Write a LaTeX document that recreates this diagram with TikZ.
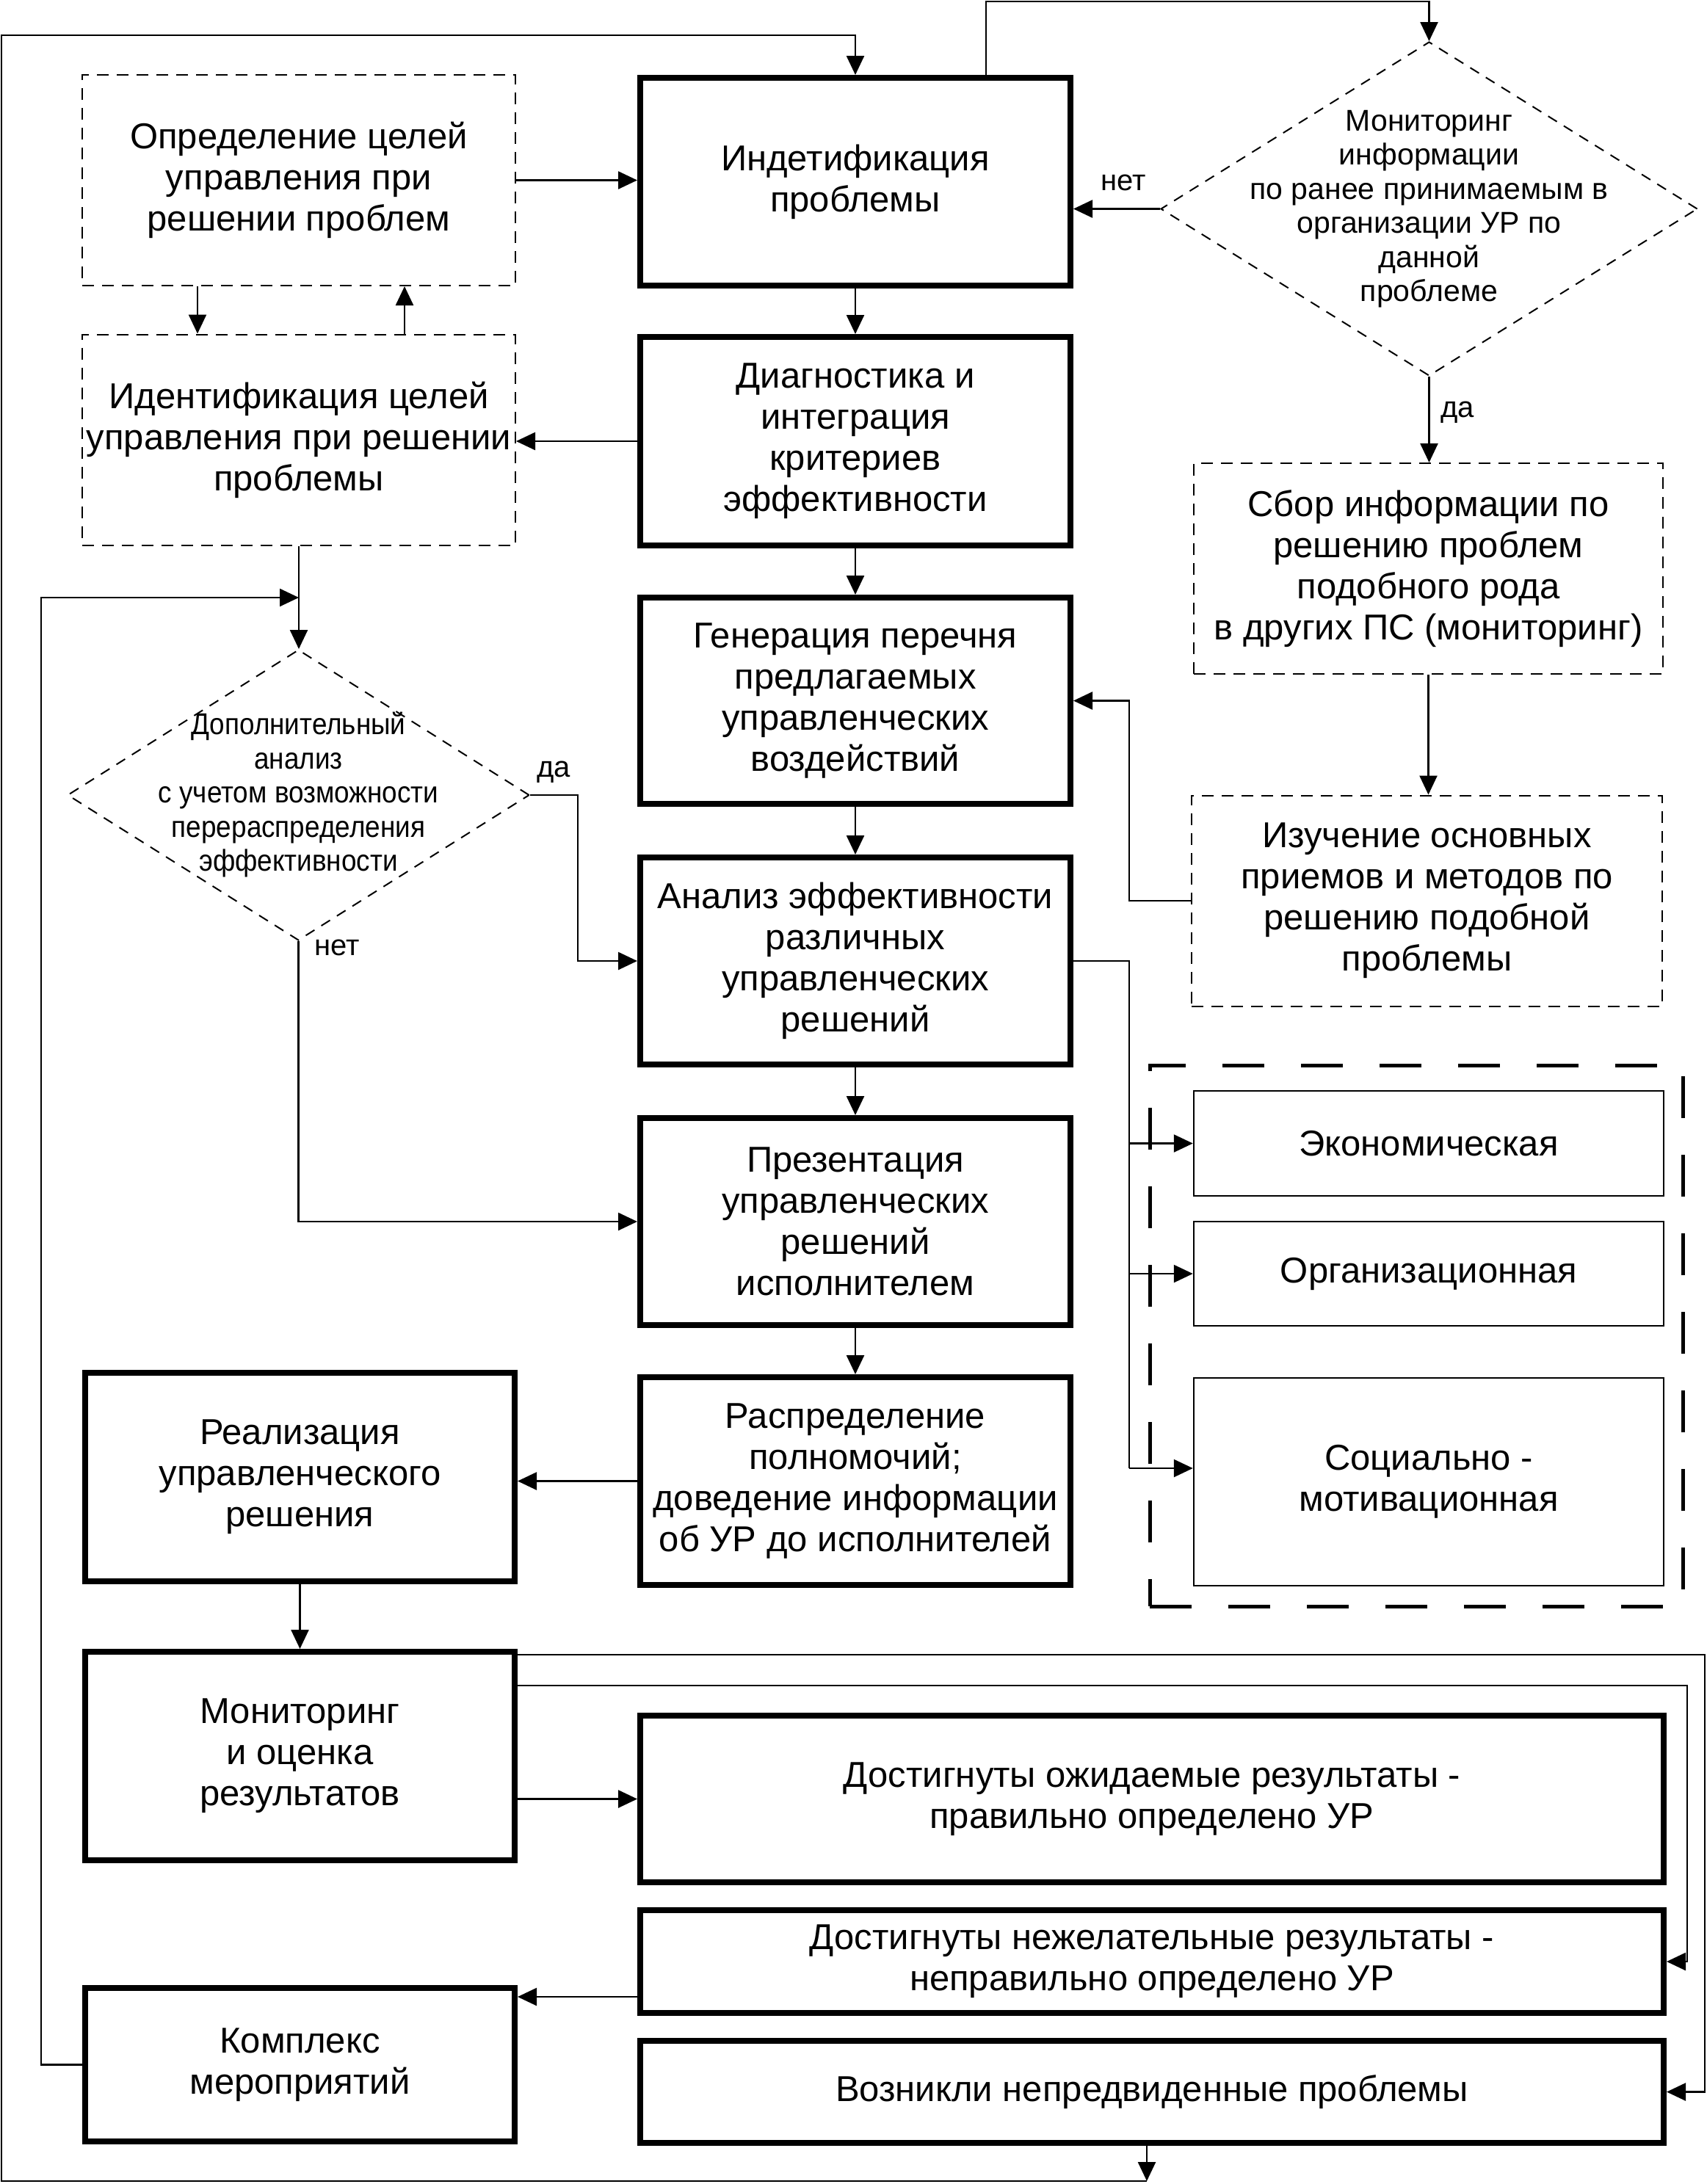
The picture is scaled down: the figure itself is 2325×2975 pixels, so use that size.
\documentclass[tikz,border=0pt]{standalone}
\usepackage{fontspec}
\setmainfont{Liberation Sans}
\newfontfamily\narrowfont{Liberation Sans}[FakeStretch=0.9]
\usetikzlibrary{arrows.meta,shapes.geometric,calc}
\begin{document}
\begin{tikzpicture}[x=1pt,y=-1pt,
  line width=2.5pt,
  arr/.style={-{Triangle[length=26pt,width=24pt]}},
  mainfont/.style={font=\fontsize{49}{56}\selectfont},
  thk/.style={draw, rectangle, line width=8pt, inner sep=0pt, align=center, mainfont},
  dbox/.style={draw, rectangle, line width=2pt, dash pattern=on 16pt off 11pt, inner sep=0pt, align=center, mainfont},
  tbox/.style={draw, rectangle, line width=2.5pt, inner sep=0pt, align=center, mainfont},
  bigdash/.style={draw, rectangle, line width=5pt, dash pattern=on 57pt off 50pt, inner sep=0pt},
  dia/.style={draw, diamond, line width=2pt, dash pattern=on 14pt off 11pt, inner sep=0pt},
  dtext/.style={align=center, inner sep=0pt, font=\fontsize{41}{46.5}\selectfont},
  dtextn/.style={align=center, inner sep=0pt, font=\narrowfont\fontsize{41}{46.5}\selectfont},
  lbl/.style={inner sep=0pt, font=\fontsize{40}{46}\selectfont},
]
\useasboundingbox (0,0) rectangle (2325,2975);

% central column
\node[thk, minimum width=586, minimum height=283] (ind) at (1165,247.5) {Индетификация\\проблемы};
\node[thk, minimum width=586, minimum height=284] (diag) at (1165,601) {Диагностика и\\интеграция\\критериев\\эффективности};
\node[thk, minimum width=586, minimum height=281] (gen) at (1165,954.5) {Генерация перечня\\предлагаемых\\управленческих\\воздействий};
\node[thk, minimum width=586, minimum height=282] (anal) at (1165,1309) {Анализ эффективности\\различных\\управленческих\\решений};
\node[thk, minimum width=586, minimum height=282] (pres) at (1165,1664) {Презентация\\управленческих\\решений\\исполнителем};
\node[thk, minimum width=586, minimum height=283] (rasp) at (1165,2017.5) {Распределение\\полномочий;\\доведение информации\\об УР до исполнителей};

% left column
\node[dbox, minimum width=590, minimum height=287] (opr) at (407,245.5) {Определение целей\\управления при\\решении проблем};
\node[dbox, minimum width=590, minimum height=287] (ident) at (407,599) {Идентификация целей\\управления при решении\\проблемы};
\node[thk, minimum width=585, minimum height=284] (real) at (408.5,2012) {Реализация\\управленческого\\решения};
\node[thk, minimum width=585, minimum height=284] (mon) at (408.5,2392) {Мониторинг\\и оценка\\результатов};
\node[thk, minimum width=585, minimum height=209] (kom) at (408.5,2812.5) {Комплекс\\мероприятий};

% bottom right
\node[thk, minimum width=1394, minimum height=227] (ozh) at (1569,2450.5) {Достигнуты ожидаемые результаты -\\правильно определено УР};
\node[thk, minimum width=1394, minimum height=140] (nezh) at (1569,2672) {Достигнуты нежелательные результаты -\\неправильно определено УР};
\node[thk, minimum width=1394, minimum height=139] (voz) at (1569,2849.5) {Возникли непредвиденные проблемы};

% right column
\node[dbox, minimum width=639, minimum height=287] (sbor) at (1945.5,774.5) {Сбор информации по\\решению проблем\\подобного рода\\в других ПС (мониторинг)};
\node[dbox, minimum width=641, minimum height=287] (izu) at (1943.5,1227) {Изучение основных\\приемов и методов по\\решению подобной\\проблемы};
\node[bigdash, minimum width=726, minimum height=737] (grp) at (1929,1819.5) {};
\node[tbox, minimum width=640, minimum height=143] (eko) at (1946,1557.5) {Экономическая};
\node[tbox, minimum width=640, minimum height=142] (org) at (1946,1735) {Организационная};
\node[tbox, minimum width=640, minimum height=283] (soc) at (1946,2018.5) {Социально -\\мотивационная};

% diamonds
\node[dia, minimum width=731, minimum height=455] (d1) at (1946.5,284.5) {};
\node[dtext] (d1t) at (d1.center) {Мониторинг\\информации\\по ранее принимаемым в\\организации УР по\\данной\\проблеме};
\node[dia, minimum width=629, minimum height=396] (d2) at (406.5,1083) {};
\node[dtextn] (d2t) at (d2.center) {Дополнительный\\анализ\\с учетом возможности\\перераспределения\\эффективности};

% labels
\node[lbl] (l1) at (1530,249) {нет};
\node[lbl] (l2) at (1985,562) {да};
\node[lbl] (l3) at (754,1052) {да};
\node[lbl] (l4) at (459,1291) {нет};

% helper coordinates
\coordinate (bus) at (1538,0);
\coordinate (s3) at (1538,2000);
\coordinate (il) at (56,814);
\coordinate (tp) at (1343,2);
\coordinate (ob) at (1562,2971);
\coordinate (ol) at (2,48);
\coordinate (k1) at (0,2720);
\coordinate (r1) at (2322,2254);
\coordinate (r2) at (2298,2296);

% central chain
\draw[arr] (ind.south) -- (diag.north);
\draw[arr] (diag.south) -- (gen.north);
\draw[arr] (gen.south) -- (anal.north);
\draw[arr] (anal.south) -- (pres.north);
\draw[arr] (pres.south) -- (rasp.north);

% left upper
\draw[arr] (opr.east) -- (opr.east -| ind.west);
\draw[arr] ([xshift=-138pt]opr.south) -- ([xshift=-138pt]ident.north);
\draw[arr] ([xshift=144pt]ident.north) -- ([xshift=144pt]opr.south);
\draw[arr] (diag.west) -- (diag.west -| ident.east);

% top loop to diamond 1
\draw[arr] (ind.north -| tp) -- (tp) -| (d1.north);
\draw[arr] (d1.west) -- (d1.west -| ind.east);
\draw[arr] (d1.south) -- (d1.south |- sbor.north);
\draw[arr] (sbor.south) -- (sbor.south |- izu.north);
\draw[arr] (izu.west) -- (izu.west -| bus) |- (gen.east);

% analysis branches
\draw (anal.east) -| (s3);
\draw[arr] (bus |- eko.west) -- (eko.west);
\draw[arr] (bus |- org.west) -- (org.west);
\draw[arr] (s3) -- (s3 -| soc.west);

% diamond 2
\draw[arr] (ident.south) -- (ident.south |- d2.north);
\draw[arr] (d2.east) -- ([xshift=65pt]d2.east) |- (anal.west);
\draw[arr] (d2.south) |- (pres.west);
\draw[arr] (kom.west) -| (il) -- (il -| ident.south);

% lower part
\draw[arr] (rasp.west) -- (rasp.west -| real.east);
\draw[arr] (real.south) -- (real.south |- mon.north);
\draw[arr] (mon.east |- ozh.west) -- (ozh.west);
\draw[arr] (nezh.west |- k1) -- (kom.east |- k1);
\draw[arr] (mon.east |- r1) -- (r1) |- (voz.east);
\draw[arr] (mon.east |- r2) -- (r2) |- (nezh.east);

% outer loop
\draw[arr] (voz.south -| ob) -- (ob);
\draw[arr] (ob) -| (ol) -| (ind.north);
\end{tikzpicture}
\end{document}
